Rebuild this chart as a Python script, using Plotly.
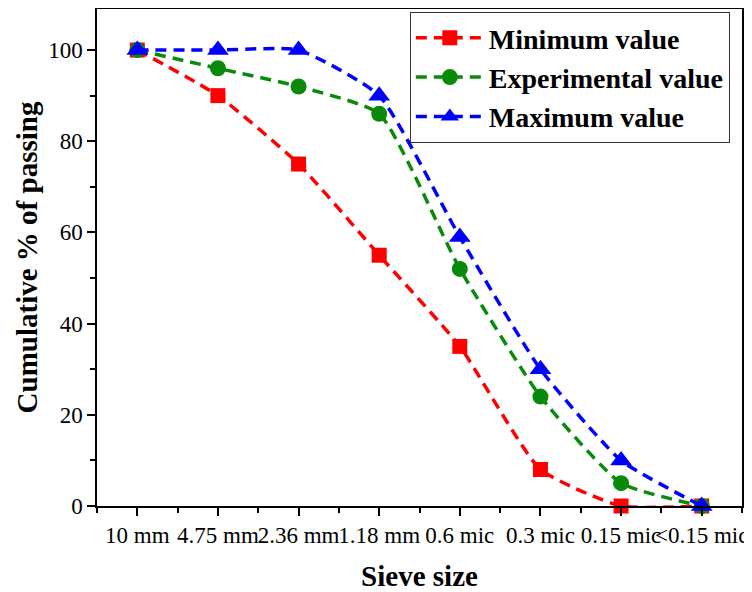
import plotly.graph_objects as go

categories = ["10 mm", "4.75 mm", "2.36 mm", "1.18 mm", "0.6 mic", "0.3 mic", "0.15 mic", "<0.15 mic"]
minimum_value = [100, 90, 75, 55, 35, 8, 0, 0]
experimental_value = [100, 96, 92, 86, 52, 24, 5, 0]
maximum_value = [100, 100, 100, 90, 59, 30, 10, 0]
y_ticks = [0, 20, 40, 60, 80, 100]

x_pos = list(range(len(categories)))
FONT = "Liberation Serif, Times New Roman, serif"

fig = go.Figure()
series = [
    ("Minimum value", minimum_value, "#ff0000", "square", 15),
    ("Experimental value", experimental_value, "#0a8a0a", "circle", 16),
    ("Maximum value", maximum_value, "#0000ff", "triangle-up", 19),
]
for name, vals, color, sym, size in series:
    fig.add_trace(go.Scatter(
        x=x_pos, y=vals, name=name, mode="lines+markers",
        line=dict(color=color, width=3.5, dash="11px,7px", shape="spline", smoothing=0.5),
        marker=dict(color=color, symbol=sym, size=size),
        cliponaxis=False,
    ))

fig.update_layout(
    width=744, height=584,
    margin=dict(l=89, r=10, t=1, b=86),
    paper_bgcolor="white", plot_bgcolor="white",
    font=dict(family=FONT, color="black", size=23),
    showlegend=True,
    legend=dict(
        x=0.485, y=0.994, xanchor="left", yanchor="top",
        bordercolor="#333333", borderwidth=1, bgcolor="white",
        font=dict(family=FONT, size=28, color="black", weight="bold"),
        itemwidth=68, tracegroupgap=0,
    ),
    xaxis=dict(
        range=[-0.5, 7.5], automargin=False,
        tickmode="array", tickvals=x_pos, ticktext=categories, tickangle=0,
        ticks="outside", ticklen=8, tickwidth=1.5, tickcolor="black",
        minor=dict(tickvals=[i + 0.5 for i in range(-1, 8)], ticks="outside", ticklen=5, tickwidth=1.5, tickcolor="black"),
        showline=True, linecolor="black", linewidth=1.5, mirror=True,
        showgrid=False, zeroline=False,
        title=dict(text="Sieve size", font=dict(family=FONT, size=29, weight="bold"), standoff=23),
        tickfont=dict(family=FONT, size=23),
    ),
    yaxis=dict(
        range=[0, 109], automargin=False,
        tickmode="array", tickvals=y_ticks,
        ticks="outside", ticklen=8, tickwidth=1.5, tickcolor="black",
        minor=dict(tickvals=[10, 30, 50, 70, 90], ticks="outside", ticklen=5, tickwidth=1.5, tickcolor="black"),
        showline=True, linecolor="black", linewidth=1.5, mirror=True,
        showgrid=False, zeroline=False,
        title=dict(text="Cumulative % of passing", font=dict(family=FONT, size=29, weight="bold"), standoff=2),
        tickfont=dict(family=FONT, size=23),
    ),
)

fig.write_html("out.html")
